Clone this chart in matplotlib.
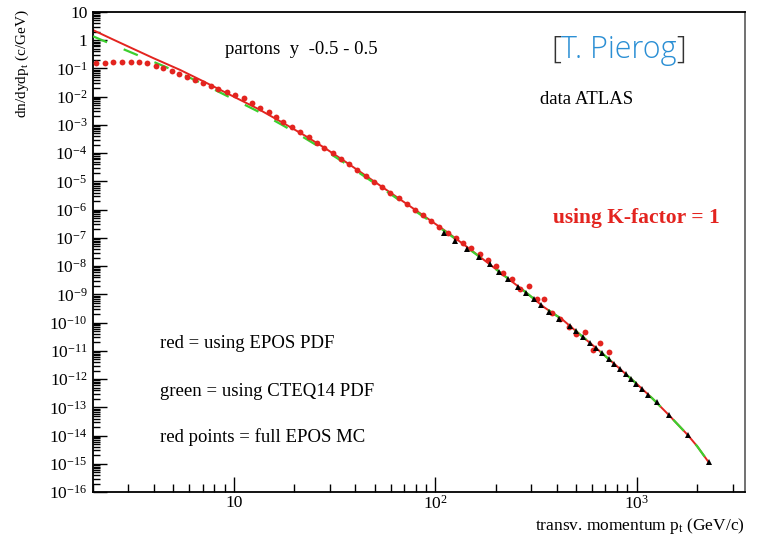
import numpy as np
import matplotlib
matplotlib.use("Agg")
import matplotlib.pyplot as plt
from matplotlib.ticker import LogLocator, FuncFormatter, NullFormatter

plt.rcParams["font.family"] = ["Liberation Serif", "DejaVu Serif"]
plt.rcParams["mathtext.fontset"] = "custom"
plt.rcParams["mathtext.rm"] = "Liberation Serif"
plt.rcParams["mathtext.it"] = "Liberation Serif:italic"
plt.rcParams["lines.scale_dashes"] = False

# ── DATA ──────────────────────────────────────────────────────────────────────
# red curve: parton spectrum using EPOS PDF
epos_pt = [2.0, 2.51, 3.16, 3.98, 5.41, 7.08, 10.0, 13.2, 17.6, 22.4, 28.2, 35.5,
           45.3, 57.5, 72.3, 91.2, 116, 148, 186, 229, 283, 347, 431, 525, 631,
           794, 1000, 1202, 1442, 1792, 1995, 2280]
epos_y = [2.29, 1.07, 0.50, 0.234, 0.089, 0.0347, 0.010, 3.7e-3, 1.17e-3, 4.3e-4,
          1.55e-4, 5.2e-5, 1.58e-5, 4.9e-6, 1.58e-6, 5.0e-7, 1.5e-7, 4.1e-8,
          1.17e-8, 3.7e-9, 1.15e-9, 3.5e-10, 1.23e-10, 3.7e-11, 1.23e-11,
          2.95e-12, 6.8e-13, 2.0e-13, 5.4e-14, 1.05e-14, 4.2e-15, 1.12e-15]

# green dashed curve: using CTEQ14 PDF
cteq_pt = [2.0, 2.51, 3.16, 3.98, 5.41, 7.08, 10.0, 13.2, 17.6, 22.4, 28.2, 35.5,
           45.3, 57.5, 72.3, 91.2, 116, 148, 186, 229, 283, 347, 431, 525, 631,
           794, 1000, 1202, 1442, 1792, 1995, 2280]
cteq_y = [1.38, 0.69, 0.347, 0.174, 0.069, 0.0275, 8.1e-3, 3.0e-3, 9.5e-4, 3.5e-4,
          1.29e-4, 4.5e-5, 1.38e-5, 4.4e-6, 1.41e-6, 4.6e-7, 1.41e-7, 3.9e-8,
          1.17e-8, 3.7e-9, 1.15e-9, 3.5e-10, 1.23e-10, 3.7e-11, 1.23e-11,
          2.95e-12, 6.8e-13, 2.0e-13, 5.4e-14, 1.05e-14, 4.2e-15, 1.12e-15]

# red points: full EPOS MC
mc_pt = [2.08, 2.30, 2.52, 2.80, 3.08, 3.39, 3.72, 4.10, 4.47, 4.92, 5.37, 5.85,
         6.43, 7.01, 7.69, 8.38, 9.23, 10.1, 11.2, 12.3, 13.5, 14.9, 16.2, 17.6,
         19.4, 21.3, 23.5, 25.8, 28.2, 31.0, 34.1, 37.4, 41.1, 45.3, 49.4, 54.3,
         59.7, 65.8, 72.3, 79.6, 86.9, 95.3, 105, 116, 127, 137, 150, 166, 182,
         200, 218, 240, 264, 291, 320, 345, 380, 418, 459, 501, 552, 607, 661, 726]
mc_y = [0.152, 0.160, 0.165, 0.165, 0.165, 0.165, 0.152, 0.126, 0.102, 0.081,
        0.064, 0.051, 0.039, 0.030, 0.024, 0.0187, 0.0151, 0.0115, 8.8e-3,
        5.85e-3, 4.07e-3, 2.82e-3, 1.86e-3, 1.26e-3, 8.3e-4, 5.4e-4, 3.6e-4,
        2.3e-4, 1.55e-4, 1.0e-4, 6.2e-5, 4.1e-5, 2.5e-5, 1.6e-5, 9.8e-6, 6.2e-6,
        3.8e-6, 2.5e-6, 1.6e-6, 9.8e-7, 6.5e-7, 4.1e-7, 2.5e-7, 1.5e-7, 1.02e-7,
        6.8e-8, 4.3e-8, 2.6e-8, 1.66e-8, 1.02e-8, 5.6e-9, 3.4e-9, 1.51e-9, 2.0e-9,
        6.8e-10, 6.8e-10, 2.1e-10, 1.32e-10, 7.2e-11, 4.0e-11, 4.7e-11, 1.07e-11,
        1.95e-11, 9.3e-12]

# black triangles: data ATLAS
atlas_pt = [110, 126, 144, 164, 186, 208, 231, 258, 283, 308, 335, 368, 410, 465,
            501, 542, 584, 631, 673, 726, 769, 824, 882, 938, 997, 1060, 1135,
            1263, 1442, 1792, 2280]
atlas_y = [1.46e-7, 8.0e-8, 3.95e-8, 2.16e-8, 1.16e-8, 6.4e-9, 3.5e-9, 1.78e-9,
           1.15e-9, 6.9e-10, 4.2e-10, 2.44e-10, 1.35e-10, 7.6e-11, 5.0e-11,
           3.0e-11, 1.95e-11, 1.23e-11, 8.1e-12, 5.1e-12, 3.5e-12, 2.3e-12,
           1.5e-12, 1.0e-12, 6.8e-13, 4.4e-13, 2.75e-13, 1.48e-13, 5.4e-14,
           1.05e-14, 1.12e-15]

RED = "#e3241f"
GREEN = "#3ccf2e"


def root_label(v, pos):
    e = int(round(np.log10(v)))
    if e == 0:
        return "1"
    if e == 1:
        return "10"
    return r"$10^{%d}$" % e


# ── FIGURE ────────────────────────────────────────────────────────────────────
W, H = 761, 536
fig = plt.figure(figsize=(W / 100, H / 100), dpi=100)
ax = fig.add_axes([93 / W, 1 - 492 / H, (745 - 93) / W, (492 - 12) / H])

ax.plot(epos_pt, epos_y, color=RED, lw=1.4, zorder=2)
ax.plot(cteq_pt, cteq_y, color=GREEN, lw=1.6, dashes=(11, 13), zorder=3)
ax.plot(mc_pt, mc_y, "o", color=RED, ms=4.2, mew=0, zorder=4)
ax.plot(atlas_pt, atlas_y, "^", color="black", ms=4.5, mew=0, zorder=5)

ax.set_xscale("log")
ax.set_yscale("log")
ax.set_xlim(2.0, 3450)
ax.set_ylim(1e-16, 10)

ax.yaxis.set_major_locator(LogLocator(base=10, numticks=40))
ax.yaxis.set_minor_locator(LogLocator(base=10, subs=np.arange(2, 10), numticks=40))
ax.xaxis.set_major_locator(LogLocator(base=10, numticks=10))
ax.xaxis.set_minor_locator(LogLocator(base=10, subs=np.arange(2, 10), numticks=10))
ax.yaxis.set_major_formatter(FuncFormatter(root_label))
ax.xaxis.set_major_formatter(FuncFormatter(root_label))
ax.yaxis.set_minor_formatter(NullFormatter())
ax.xaxis.set_minor_formatter(NullFormatter())

ax.tick_params(axis="both", which="both", direction="in", top=False, right=False,
               labelsize=12.5, width=1)
ax.tick_params(axis="y", which="major", length=10, pad=4)
ax.tick_params(axis="y", which="minor", length=5)
ax.tick_params(axis="x", which="major", length=11, pad=2)
ax.tick_params(axis="x", which="minor", length=6)
for sp in ax.spines.values():
    sp.set_linewidth(1.3)
ax.spines["right"].set_color("#666666")

# axis titles, ROOT style (at the end of the axis)
fig.text(22 / W, 1 - 9 / H, r"dn/dydp$_{\mathrm{t}}$ (c/GeV)", rotation=90,
         ha="center", va="top", fontsize=11)
fig.text(745 / W, 1 - 526 / H, r"transv. momentum p$_{\mathrm{t}}$ (GeV/c)",
         ha="right", va="center", fontsize=12.5)

# annotations
fig.text(225 / W, 1 - 50 / H, "partons  y  -0.5 - 0.5", ha="left", va="center",
         fontsize=13.5)
fig.text(540 / W, 1 - 100 / H, "data ATLAS", ha="left", va="center", fontsize=13.5)
fig.text(553 / W, 1 - 218 / H, "using K-factor = 1", ha="left", va="center",
         fontsize=15.5, fontweight="bold", color=RED)
fig.text(160 / W, 1 - 343 / H, "red = using EPOS PDF", ha="left", va="center",
         fontsize=13.5)
fig.text(160 / W, 1 - 392 / H, "green = using CTEQ14 PDF", ha="left", va="center",
         fontsize=13.5)
fig.text(160 / W, 1 - 437 / H, "red points = full EPOS MC", ha="left", va="center",
         fontsize=13.5)

# "[T. Pierog]" with grey brackets and blue name
sans = ["Open Sans", "DejaVu Sans"]
name = fig.text(619 / W, 1 - 50 / H, "T. Pierog", ha="center", va="center",
                fontsize=22, color="#2b8fd4", family=sans, fontweight="light")
fig.canvas.draw()
bb = name.get_window_extent()
fig.text(bb.x0 / W, 1 - 50 / H, "[", ha="right", va="center", fontsize=22,
         color="#333333", family=sans, fontweight="light")
fig.text(bb.x1 / W, 1 - 50 / H, "]", ha="left", va="center", fontsize=22,
         color="#333333", family=sans, fontweight="light")

fig.savefig("out.png", dpi=100)
